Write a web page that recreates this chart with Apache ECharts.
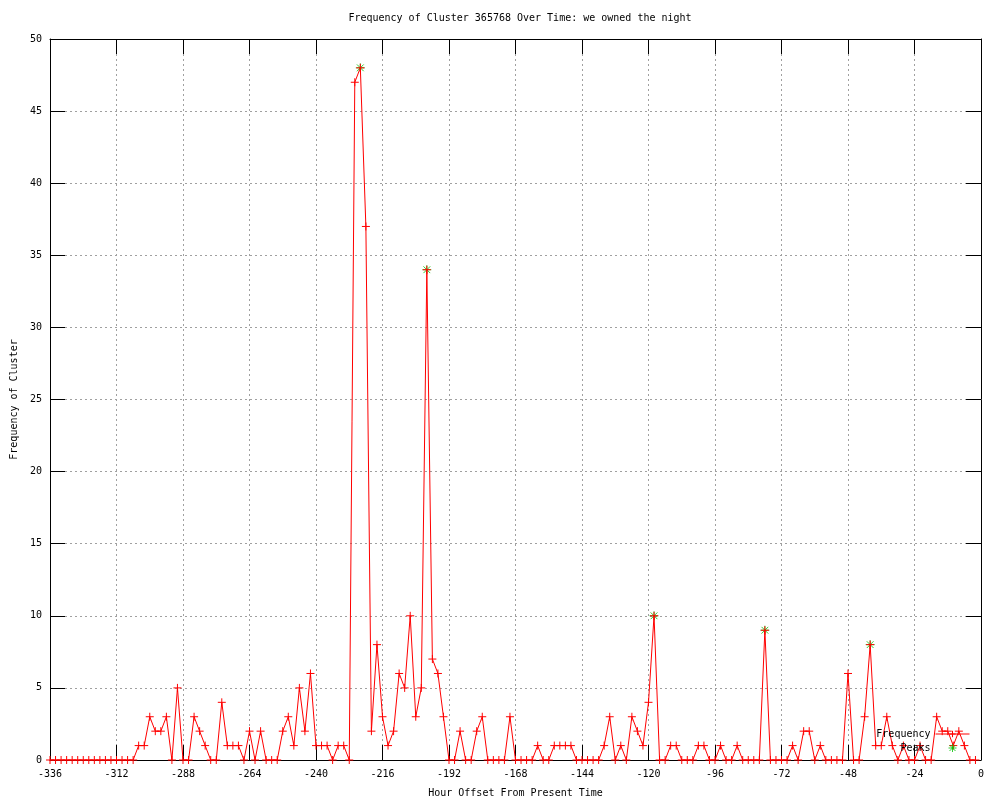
<!DOCTYPE html>
<html><head><meta charset="utf-8">
<script src="https://cdn.jsdelivr.net/npm/echarts@6/dist/echarts.min.js"></script>
<style>html,body{margin:0;padding:0;background:#fff}#c{width:1000px;height:800px}</style>
</head><body><div id="c"></div>
<script>
const hours = [
-336,-334,-332,-330,-328,-326,-324,-322,-320,-318,-316,-314,
-312,-310,-308,-306,-304,-302,-300,-298,-296,-294,-292,-290,
-288,-286,-284,-282,-280,-278,-276,-274,-272,-270,-268,-266,
-264,-262,-260,-258,-256,-254,-252,-250,-248,-246,-244,-242,
-240,-238,-236,-234,-232,-230,-228,-226,-224,-222,-220,-218,
-216,-214,-212,-210,-208,-206,-204,-202,-200,-198,-196,-194,
-192,-190,-188,-186,-184,-182,-180,-178,-176,-174,-172,-170,
-168,-166,-164,-162,-160,-158,-156,-154,-152,-150,-148,-146,
-144,-142,-140,-138,-136,-134,-132,-130,-128,-126,-124,-122,
-120,-118,-116,-114,-112,-110,-108,-106,-104,-102,-100,-98,
-96,-94,-92,-90,-88,-86,-84,-82,-80,-78,-76,-74,
-72,-70,-68,-66,-64,-62,-60,-58,-56,-54,-52,-50,
-48,-46,-44,-42,-40,-38,-36,-34,-32,-30,-28,-26,
-24,-22,-20,-18,-16,-14,-12,-10,-8,-6,-4,-2
];
const freq = [
0,0,0,0,0,0,0,0,0,0,0,0,
0,0,0,0,1,1,3,2,2,3,0,5,
0,0,3,2,1,0,0,4,1,1,1,0,
2,0,2,0,0,0,2,3,1,5,2,6,
1,1,1,0,1,1,0,47,48,37,2,8,
3,1,2,6,5,10,3,5,34,7,6,3,
0,0,2,0,0,2,3,0,0,0,0,3,
0,0,0,0,1,0,0,1,1,1,1,0,
0,0,0,0,1,3,0,1,0,3,2,1,
4,10,0,0,1,1,0,0,0,1,1,0,
0,1,0,0,1,0,0,0,0,9,0,0,
0,0,1,0,2,2,0,1,0,0,0,0,
6,0,0,3,8,1,1,3,1,0,1,0,
0,1,0,0,3,2,2,1,2,1,0,0
];
const peakHours = [-224, -200, -118, -78, -40];
const peakValues = [48, 34, 10, 9, 8];
const xTicks = {min: -336, max: 0, interval: 24};
const yTicks = {min: 0, max: 50, interval: 5};

const FONT = 'DejaVu Sans Mono';
const PLUS = 'path://M0,4L8,4M4,0L4,8';
const STAR = 'path://M0,4L8,4M4,0L4,8M1,1L7,7M7,1L1,7';
const txt = {fontFamily: FONT, fontSize: 10, color: '#000'};
const split = {show: true, showMinLine: false, showMaxLine: false, lineStyle: {color: '#a0a0a0', type: [2, 3], width: 1}};
const tick = {show: true, inside: true, length: 15, lineStyle: {color: '#000', width: 1}};
const axLine = {show: true, onZero: false, lineStyle: {color: '#000', width: 1}};

const chart = echarts.init(document.getElementById('c'), null, {renderer: 'canvas'});
chart.setOption({
  animation: false,
  backgroundColor: '#fff',
  title: {
    text: 'Frequency of Cluster 365768 Over Time: we owned the night',
    left: 515, top: 8, textAlign: 'center',
    textStyle: Object.assign({}, txt, {fontWeight: 'normal'})
  },
  grid: {left: 50, right: 19, top: 39, bottom: 40, containLabel: false, outerBoundsMode: 'none'},
  legend: {
    orient: 'vertical', right: 30, top: 729, align: 'right',
    itemWidth: 34, itemHeight: 8, itemGap: 4, padding: 0,
    selectedMode: false,
    textStyle: txt,
    lineStyle: {width: 1},
    itemStyle: {borderWidth: 1},
    data: ['Frequency', 'Peaks']
  },
  xAxis: [
    Object.assign({type: 'value', position: 'bottom', axisLine: axLine, axisTick: tick,
      axisLabel: Object.assign({}, txt, {margin: 9}), splitLine: split,
      name: 'Hour Offset From Present Time', nameLocation: 'middle', nameGap: 28, nameTextStyle: txt}, xTicks),
    Object.assign({type: 'value', position: 'top', axisLine: axLine, axisTick: tick,
      axisLabel: {show: false}, splitLine: {show: false}}, xTicks)
  ],
  yAxis: [
    Object.assign({type: 'value', position: 'left', axisLine: axLine, axisTick: tick,
      axisLabel: Object.assign({}, txt, {margin: 8}), splitLine: split,
      name: 'Frequency of Cluster', nameLocation: 'middle', nameGap: 31, nameRotate: 90, nameTextStyle: txt}, yTicks),
    Object.assign({type: 'value', position: 'right', axisLine: axLine, axisTick: tick,
      axisLabel: {show: false}, splitLine: {show: false}}, yTicks)
  ],
  series: [
    {
      name: 'Frequency', type: 'line', xAxisIndex: 0, yAxisIndex: 0,
      data: hours.map((h, i) => [h, freq[i]]),
      symbol: PLUS, symbolSize: 8, showSymbol: true, showAllSymbol: true,
      lineStyle: {color: '#ff0000', width: 1},
      itemStyle: {color: '#ff0000', borderColor: '#ff0000', borderWidth: 1},
      z: 3, silent: true, clip: false
    },
    {
      name: 'Peaks', type: 'scatter', xAxisIndex: 0, yAxisIndex: 0,
      data: peakHours.map((h, i) => [h, peakValues[i]]),
      symbol: STAR, symbolSize: 9,
      itemStyle: {color: '#00c000', borderColor: '#00c000', borderWidth: 1},
      z: 2, silent: true
    }
  ]
});
</script>
</body></html>
